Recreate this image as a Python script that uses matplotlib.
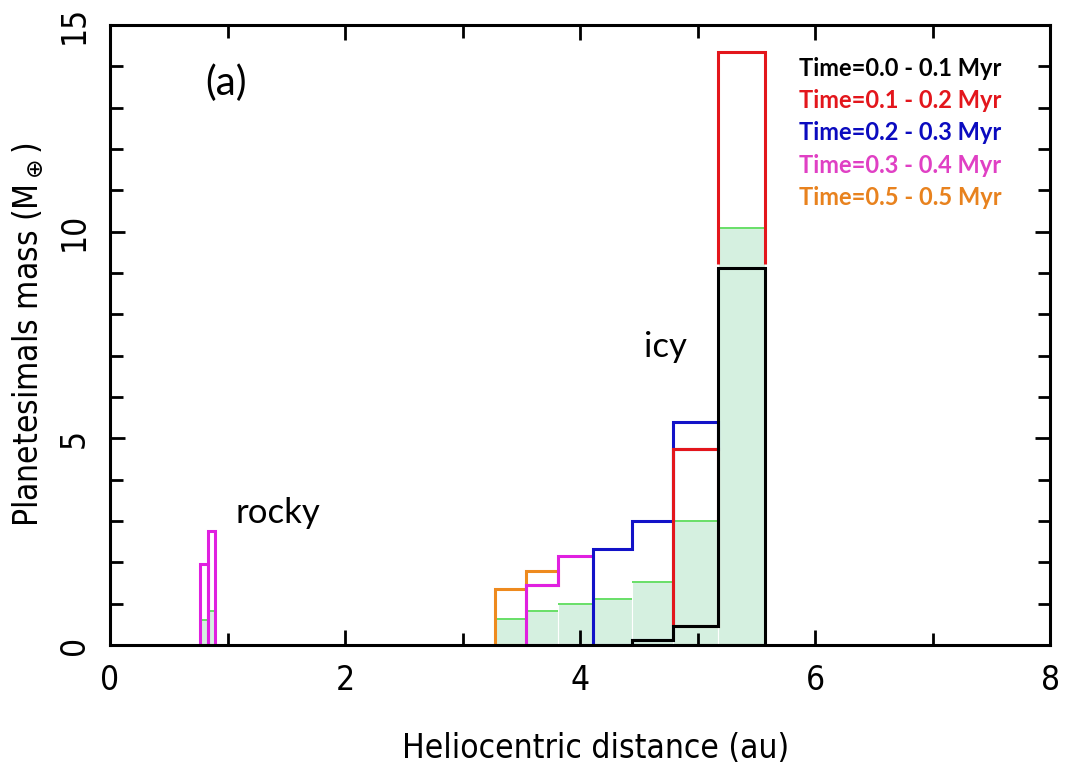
import numpy as np
import matplotlib
matplotlib.use("Agg")
import matplotlib.pyplot as plt
from matplotlib.ticker import MultipleLocator

# bin edges (au) and masses (Earth masses) of the planetesimal histogram
rocky_edges = [0.77, 0.83, 0.89]
rocky_mass = [1.95, 2.75]
rocky_green = [0.61, 0.83]

icy_edges = [3.28, 3.54, 3.81, 4.11, 4.44, 4.79, 5.17, 5.57]
icy_green = [0.63, 0.83, 1.00, 1.11, 1.52, 3.01, 10.08]

# cumulative (stacked) mass per time interval, one value per icy bin
black_top = [0, 0, 0, 0, 0.12, 0.47, 9.13]
red_top = [0, 0, 0, 0, 0.12, 4.75, 14.35]
blue_top = [0, 0, 0, 2.32, 2.99, 5.40, 14.35]
magenta_top = [0, 1.44, 2.15, 2.32, 2.99, 5.40, 14.35]
orange_top = [1.36, 1.80, 2.15, 2.32, 2.99, 5.40, 14.35]

labels = ["Time=0.0 - 0.1 Myr", "Time=0.1 - 0.2 Myr", "Time=0.2 - 0.3 Myr",
          "Time=0.3 - 0.4 Myr", "Time=0.5 - 0.5 Myr"]
line_colors = ["#000000", "#e3161c", "#1212c8", "#e020e0", "#ee8a1e"]
text_colors = ["#000000", "#e3161c", "#0b0bbf", "#e040c4", "#e8821e"]

narrow = dict(family="DejaVu Sans", stretch="condensed")

fig = plt.figure(figsize=(10.65, 7.63), dpi=100)
ax = fig.add_axes([0.1033, 0.1547, 0.8827, 0.8125])

# light green filled histogram with green tops
e = np.array(icy_edges)
ax.bar(e[:-1], icy_green, width=np.diff(e), align='edge', color='#d5f0e0',
       edgecolor='white', linewidth=0.8, zorder=1)
ax.hlines(icy_green, e[:-1], e[1:], color='#5cdc5c', lw=1.3, zorder=1.5)
r = np.array(rocky_edges)
ax.bar(r[:-1], rocky_green, width=np.diff(r), align='edge', color='#d5f0e0',
       edgecolor='white', linewidth=0.5, zorder=1)
ax.hlines(rocky_green, r[:-1], r[1:], color='#5cdc5c', lw=1.3, zorder=1.5)

# rocky planetesimals
ax.bar(r[:-1], rocky_mass, width=np.diff(r), align='edge', fill=False,
       edgecolor='#e020e0', linewidth=2.2, zorder=3)


def stacked_outline(top, below, color, z):
    top = np.array(top, dtype=float)
    below = np.array(below, dtype=float)
    idx = np.where(top > below)[0]
    i0, i1 = idx[0], idx[-1] + 1
    ax.stairs(top[i0:i1], e[i0:i1 + 1], baseline=below[i0:i1],
              color=color, linewidth=2.2, zorder=z)


zero = [0] * 7
stacked_outline(orange_top, magenta_top, line_colors[4], 3)
stacked_outline(magenta_top, blue_top, line_colors[3], 3.1)
stacked_outline(blue_top, red_top, line_colors[2], 3.2)
stacked_outline(black_top, zero, line_colors[0], 3.3)
# red layer sits just above the black one in the last bin
ax.stairs([red_top[-1]], e[-2:], baseline=black_top[-1] + 0.09,
          color=line_colors[1], linewidth=2.2, zorder=3.4)
stacked_outline(red_top[:-1], black_top[:-1], line_colors[1], 3.25)

ax.set_xlim(0, 8)
ax.set_ylim(0, 15)
ax.xaxis.set_major_locator(MultipleLocator(2))
ax.xaxis.set_minor_locator(MultipleLocator(1))
ax.yaxis.set_major_locator(MultipleLocator(5))
ax.yaxis.set_minor_locator(MultipleLocator(1))
ax.tick_params(which='both', direction='in', top=True, right=True, width=2)
ax.tick_params(which='major', length=11)
ax.tick_params(which='minor', length=9)
ax.tick_params(axis='x', pad=14)
ax.tick_params(axis='y', pad=14)
for s in ax.spines.values():
    s.set_linewidth(2.2)
    s.set_zorder(5)

for lab in ax.get_xticklabels() + ax.get_yticklabels():
    lab.set_family(narrow["family"])
    lab.set_stretch(narrow["stretch"])
    lab.set_fontsize(24)
for lab in ax.get_yticklabels():
    lab.set_rotation(90)
    lab.set_va('center')

ax.set_xlabel("Heliocentric distance (au)", fontsize=24, **narrow)
ax.xaxis.set_label_coords(0.517, -0.14)
ax.set_ylabel(r"Planetesimals mass (M$_\oplus$)", fontsize=24, labelpad=8,
              **narrow)

ax.text(0.99, 13.6, "(a)", fontsize=29, family="Lato",
        ha='center', va='center')
ax.text(1.07, 3.19, "rocky", fontsize=25, family="Lato", ha='left', va='center')
ax.text(4.54, 7.2, "icy", fontsize=25, family="Lato", ha='left', va='center')

for i, (lab, c) in enumerate(zip(labels, text_colors)):
    ax.text(5.86, 13.95 - i * 0.78, lab, color=c, fontsize=17,
            family="Lato", fontweight='bold', ha='left', va='center')

fig.savefig("out.png", dpi=100)
